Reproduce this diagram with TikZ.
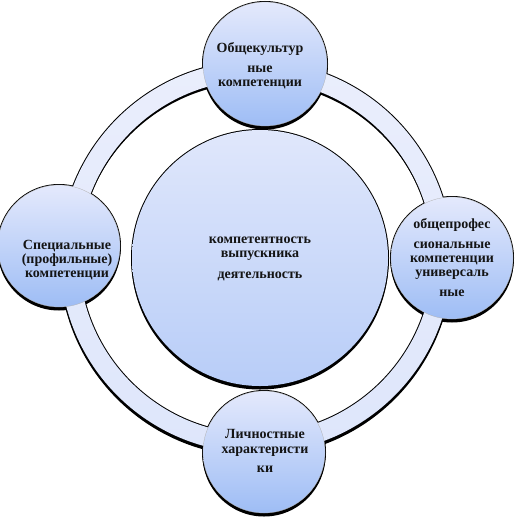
\documentclass[tikz,border=0pt]{standalone}
\usepackage{fontspec}
\setmainfont{Liberation Serif}
\definecolor{satTop}{RGB}{228,233,252}
\definecolor{satBot}{RGB}{158,189,245}
\definecolor{cenTop}{RGB}{224,231,251}
\definecolor{cenBot}{RGB}{184,205,248}
\definecolor{ringTop}{RGB}{234,238,252}
\definecolor{ringBot}{RGB}{222,230,251}
\definecolor{txt}{RGB}{20,20,20}
\begin{document}
\begin{tikzpicture}[x=1pt,y=-1pt,
  blk/.style={fill=black},
  satfill/.style={top color=satTop, bottom color=satBot, draw=gray!60, line width=0.3pt},
  cenfill/.style={top color=cenTop, bottom color=cenBot},
  ringfill/.style={top color=ringTop, bottom color=ringBot, even odd rule},
  lbl/.style={align=center, text=txt, inner sep=0pt,
    font=\fontsize{14}{14}\selectfont\bfseries}
]
\useasboundingbox (0,0) rectangle (521,519);
% centres
\coordinate (C) at (256,257);
\coordinate (M) at (260,258);
\coordinate (T) at (265,64);
\coordinate (L) at (59,246);
\coordinate (R) at (452,258);
\coordinate (B) at (264,452);
% black outline / shadow layer
\fill[blk, even odd rule] (C) circle[radius=197pt] (C) circle[radius=176pt];
\fill[blk, even odd rule] ([yshift=-3pt]C) circle[radius=196.5pt] ([yshift=-3pt]C) circle[radius=177.5pt];
\foreach \p/\r in {M/128, T/62, L/61, R/61, B/61}{
  \fill[blk] (\p) circle[radius=\r pt+1pt];
  \fill[blk] ([yshift=-3pt]\p) circle[radius=\r pt+0.5pt];
}
% ring
\shade[ringfill] (C) circle[radius=196pt] (C) circle[radius=177pt];
% circles
\shade[cenfill] (M) circle[radius=128pt];
\foreach \p/\r in {T/62, L/61, R/61, B/61}{
  \shade[satfill] (\p) circle[radius=\r pt];
}
% texts
\node[lbl] (tc) at (260,259) {компетентность\\выпускника\\[7pt]деятельность};
\node[lbl] (tt) at (260,66) {Общекультур\\[6pt]ные\\компетенции};
\node[lbl] (tl) at (67,260) {Специальные\\(профильные)\\компетенции};
\node[lbl] (tr) at (452,258) {общепрофес\\[6pt]сиональные\\компетенции\\универсаль\\[6pt]ные};
\node[lbl] (tb) at (265,451) {Личностные\\[1pt]характеристи\\[5pt]ки};
\end{tikzpicture}
\end{document}
